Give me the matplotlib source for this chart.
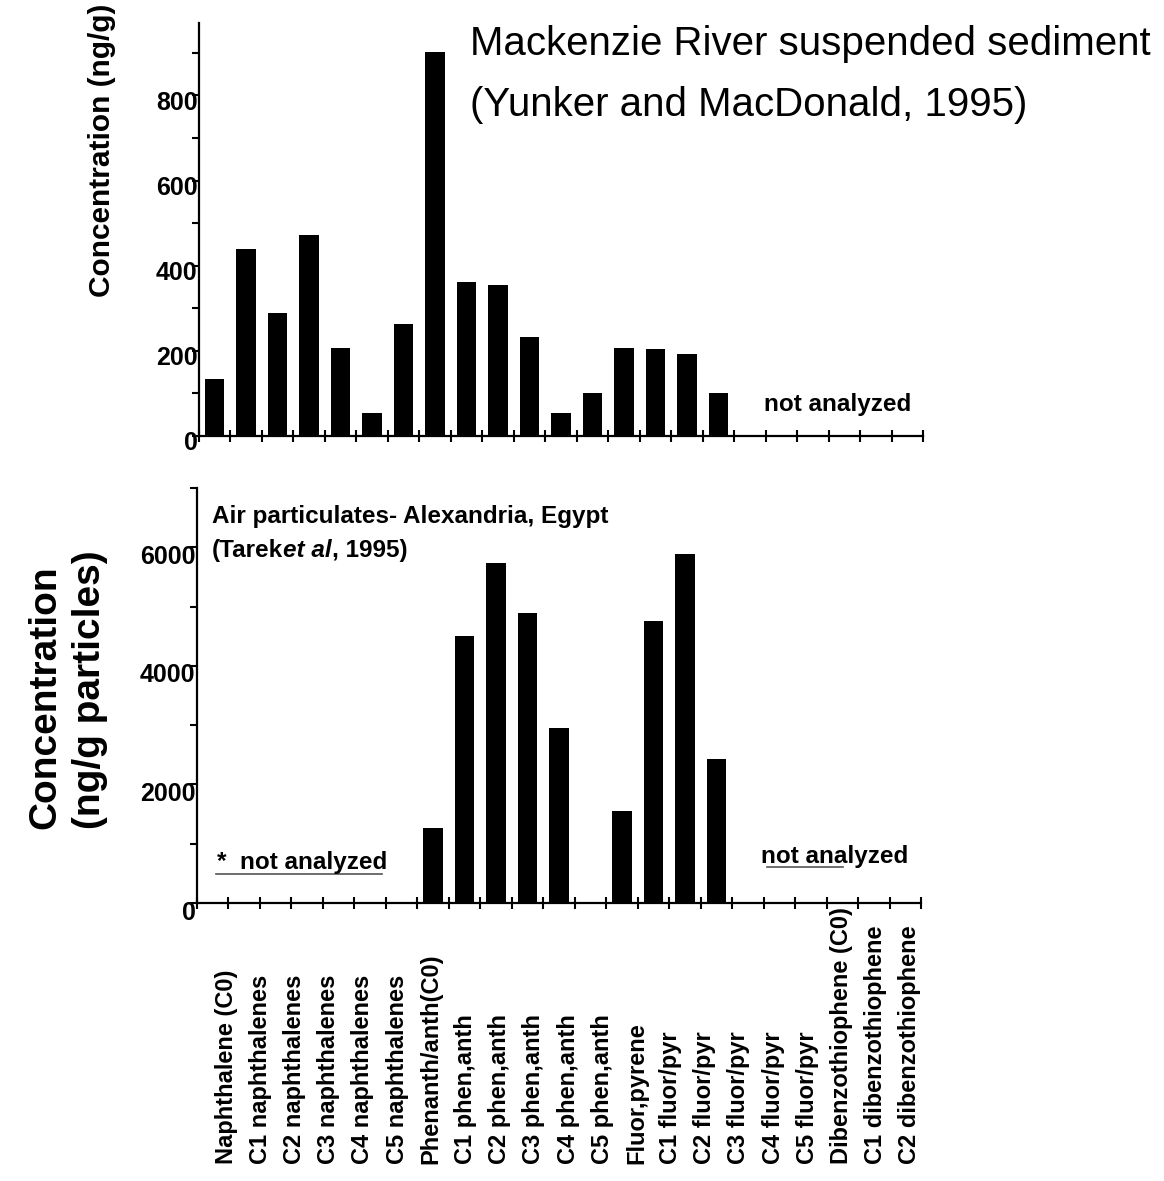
import numpy as np
import matplotlib.pyplot as plt
import matplotlib.transforms as mtransforms

plt.rcParams['font.family'] = ['Liberation Sans', 'DejaVu Sans']

# compound groups printed under the lower panel
compounds = ['Naphthalene (C0)', 'C1 naphthalenes', 'C2 naphthalenes', 'C3 naphthalenes',
             'C4 naphthalenes', 'C5 naphthalenes', 'Phenanth/anth(C0)', 'C1 phen,anth',
             'C2 phen,anth', 'C3 phen,anth', 'C4 phen,anth', 'C5 phen,anth',
             'Fluor,pyrene', 'C1 fluor/pyr', 'C2 fluor/pyr', 'C3 fluor/pyr', 'C4 fluor/pyr',
             'C5 fluor/pyr', 'Dibenzothiophene (C0)', 'C1 dibenzothiophene',
             'C2 dibenzothiophene']

# ng/g, one entry per slot on the bar axis (None = no bar)
mackenzie = [134, 439, 289, 473, 206, 55, 264, 903, 362, 355, 233, 55, 102, 206, 204, 193, 102,
             None, None, None, None, None, None]
# ng/g particles
alexandria = [None, None, None, None, None, None, None,
              1260, 4500, 5740, 4890, 2950, None, 1550, 4760, 5880, 2430,
              None, None, None, None, None, None]

W, H = 1164, 1181
fig = plt.figure(figsize=(W / 100, H / 100), dpi=100)


def add_px_axes(left, top, right, bottom):
    return fig.add_axes([left / W, 1 - bottom / H, (right - left) / W, (bottom - top) / H])


def bar_panel(ax, values, ymax, major, minor, label_drop):
    vals = np.array(values, dtype=float)
    x = np.arange(len(vals)) + 0.5
    ok = ~np.isnan(vals)
    ax.bar(x[ok], vals[ok], width=0.62, color='black', linewidth=0)
    ax.set_xlim(0, len(vals))
    ax.set_ylim(0, ymax)
    ax.set_xticks(np.arange(len(vals) + 1))
    ax.set_xticklabels([])
    ax.set_yticks(np.arange(0, ymax + 1, major))
    ax.set_yticks(np.arange(minor, ymax + 1, major), minor=True)
    for s in ['top', 'right']:
        ax.spines[s].set_visible(False)
    for s in ['left', 'bottom']:
        ax.spines[s].set_linewidth(1.6)
    ax.tick_params(axis='x', direction='inout', length=8.5, width=1.5)
    ax.tick_params(axis='y', which='both', direction='out', length=5, width=1.5)
    ax.tick_params(axis='y', which='major', pad=-4.0, labelsize=18)
    for lab in ax.get_yticklabels():
        lab.set_fontweight('bold')
    drop = mtransforms.ScaledTranslation(0, -label_drop / 100, fig.dpi_scale_trans)
    for tick in ax.yaxis.get_major_ticks():
        tick.label1.set_transform(tick.label1.get_transform() + drop)


# Mackenzie River panel
ax1 = add_px_axes(199, 23, 923, 436)
bar_panel(ax1, mackenzie, 970, 200, 100, 5)
ax1.text(0.780, 0.0607, 'not analyzed', transform=ax1.transAxes,
         fontsize=17.5, fontweight='bold', va='baseline')

fig.text(470 / W, 1 - 55 / H, 'Mackenzie River suspended sediment', fontsize=29, va='baseline')
fig.text(470 / W, 1 - 116 / H, '(Yunker and MacDonald, 1995)', fontsize=29, va='baseline')
fig.text(102 / W, 1 - 150 / H, 'Concentration (ng/g)', rotation=90, fontsize=21.5,
         fontweight='bold', ha='center', va='center')

# Alexandria air particulates panel
ax2 = add_px_axes(197, 488, 921, 903)
bar_panel(ax2, alexandria, 7000, 2000, 1000, 7)
ax2.set_yticks(np.arange(1000, 7001, 2000), minor=True)

bold = dict(fontsize=17.5, fontweight='bold')
ax2.text(0.0207, 0.9157, 'Air particulates- Alexandria, Egypt', transform=ax2.transAxes,
         va='baseline', **bold)
t1 = ax2.text(0.0207, 0.8337, '(Tarek', transform=ax2.transAxes, va='baseline', **bold)
t2 = ax2.annotate('et al', xycoords=t1, xy=(1, 0), va='bottom', fontstyle='italic', **bold)
ax2.annotate(', 1995)', xycoords=t2, xy=(1, 0), va='bottom', **bold)

ax2.text(0.0276, 0.083, '*  not analyzed', transform=ax2.transAxes, va='baseline', **bold)
ax2.plot([0.026, 0.2555], [0.071, 0.071], transform=ax2.transAxes, color='#555555',
         lw=1.2, clip_on=False)
ax2.text(0.779, 0.0956, 'not analyzed', transform=ax2.transAxes, va='baseline', **bold)
ax2.plot([0.787, 0.892], [0.0858, 0.0858], transform=ax2.transAxes, color='#555555',
         lw=1.2, clip_on=False)

fig.text(68 / W, 1 - 690 / H, 'Concentration\n(ng/g particles)', rotation=90, fontsize=28,
         fontweight='bold', ha='center', va='center', multialignment='left',
         linespacing=1.3)

# compound names, standing on a common baseline below the lower panel
axl = add_px_axes(209, 1164, 927, 1168)
axl.set_xlim(-0.5, len(compounds) - 0.5)
axl.set_xticks(np.arange(len(compounds)))
axl.set_xticklabels(compounds, rotation=90, fontsize=17, fontweight='bold')
axl.xaxis.tick_top()
axl.tick_params(axis='x', length=0, pad=0)
axl.set_yticks([])
for s in axl.spines.values():
    s.set_visible(False)
axl.patch.set_visible(False)

fig.savefig('out.png', dpi=100)
